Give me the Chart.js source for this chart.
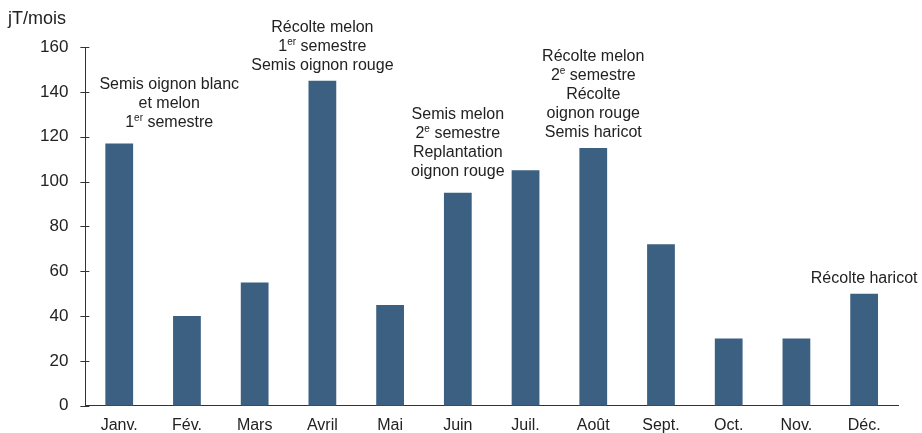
<!DOCTYPE html>
<html>
<head>
<meta charset="utf-8">
<script src="https://cdn.jsdelivr.net/npm/chart.js@4"></script>
<style>
    html, body { margin: 0; padding: 0; background: #ffffff; }
    #wrap { width: 922px; height: 433px; }
</style>
</head>
<body>
<div id="wrap"><canvas id="chart" width="922" height="433"></canvas></div>
<script>
const months = ['Janv.', 'Fév.', 'Mars', 'Avril', 'Mai', 'Juin', 'Juil.', 'Août', 'Sept.', 'Oct.', 'Nov.', 'Déc.'];
const values = [117, 40, 55, 145, 45, 95, 105, 115, 72, 30, 30, 50];
const yTicks = [0, 20, 40, 60, 80, 100, 120, 140, 160];
// notes above the bars, "^" marks a superscript
const notes = [
    ['Semis oignon blanc', 'et melon', '1^er semestre'],
    null,
    null,
    ['Récolte melon', '1^er semestre', 'Semis oignon rouge'],
    null,
    ['Semis melon', '2^e semestre', 'Replantation', 'oignon rouge'],
    null,
    ['Récolte melon', '2^e semestre', 'Récolte', 'oignon rouge', 'Semis haricot'],
    null,
    null,
    null,
    ['Récolte haricot']
];

const FONT = '"Liberation Sans", Arial, sans-serif';
const textColor = '#222222';
const axisColor = '#333333';
const barColor = '#3b6082';

// axis title + ticks crossing the y axis
const axisExtras = {
    id: 'axisExtras',
    afterDraw(chart) {
        const ctx = chart.ctx;
        const y = chart.scales.y;
        const left = chart.chartArea.left;
        ctx.save();
        ctx.strokeStyle = axisColor;
        ctx.lineWidth = 1;
        yTicks.forEach(v => {
            const py = Math.round(y.getPixelForValue(v)) + 0.5;
            ctx.beginPath();
            ctx.moveTo(left - 5, py);
            ctx.lineTo(left + 4, py);
            ctx.stroke();
        });
        ctx.fillStyle = textColor;
        ctx.font = '18px ' + FONT;
        ctx.textAlign = 'left';
        ctx.textBaseline = 'alphabetic';
        ctx.fillText('jT/mois', 8, 24);
        ctx.restore();
    }
};

// text notes drawn above bars
const barNotes = {
    id: 'barNotes',
    afterDatasetsDraw(chart, args, opts) {
        const ctx = chart.ctx;
        const meta = chart.getDatasetMeta(0);
        ctx.save();
        ctx.fillStyle = textColor;
        ctx.textBaseline = 'alphabetic';
        notes.forEach((lines, i) => {
            if (!lines) return;
            const bar = meta.data[i];
            const cx = bar.x + (opts.shift[i] || 0);
            let base = bar.y - (opts.gap[i] || 11);
            for (let k = lines.length - 1; k >= 0; k--) {
                drawLine(ctx, lines[k], cx, base);
                base -= opts.lineHeight;
            }
        });
        ctx.restore();
    }
};

function drawLine(ctx, text, cx, base) {
    const parts = [];
    const re = /\^(\S+)/g;
    let last = 0, m;
    while ((m = re.exec(text)) !== null) {
        parts.push({ t: text.slice(last, m.index), sup: false });
        parts.push({ t: m[1], sup: true });
        last = m.index + m[0].length;
    }
    parts.push({ t: text.slice(last), sup: false });
    const fontFor = p => (p.sup ? '10px ' : '16px ') + FONT;
    let width = 0;
    parts.forEach(p => { ctx.font = fontFor(p); width += ctx.measureText(p.t).width; });
    let x = cx - width / 2;
    ctx.textAlign = 'left';
    parts.forEach(p => {
        ctx.font = fontFor(p);
        ctx.fillText(p.t, x, p.sup ? base - 6 : base);
        x += ctx.measureText(p.t).width;
    });
}

new Chart(document.getElementById('chart').getContext('2d'), {
    type: 'bar',
    data: {
        labels: months,
        datasets: [{
            data: values,
            backgroundColor: barColor,
            borderWidth: 0,
            barPercentage: 0.82,
            categoryPercentage: 0.5
        }]
    },
    options: {
        responsive: false,
        animation: false,
        layout: {
            padding: { left: 31, right: 24, top: 47, bottom: -12 }
        },
        plugins: {
            legend: { display: false },
            tooltip: { enabled: false },
            barNotes: {
                lineHeight: 19,
                shift: { 0: 50 },
                gap: { 0: 16, 3: 11, 5: 17, 7: 11, 11: 11 }
            }
        },
        scales: {
            x: {
                grid: { display: false, tickLength: 0 },
                border: { display: true, color: axisColor, width: 1 },
                ticks: {
                    color: textColor,
                    font: { family: FONT, size: 16 },
                    padding: 10,
                    maxRotation: 0
                }
            },
            y: {
                min: 0,
                max: 160,
                afterBuildTicks(scale) {
                    scale.ticks = yTicks.map(v => ({ value: v }));
                },
                grid: { display: false },
                border: { display: true, color: axisColor, width: 1 },
                ticks: {
                    color: textColor,
                    font: { family: FONT, size: 17 },
                    padding: 9
                }
            }
        }
    },
    plugins: [axisExtras, barNotes]
});
</script>
</body>
</html>
